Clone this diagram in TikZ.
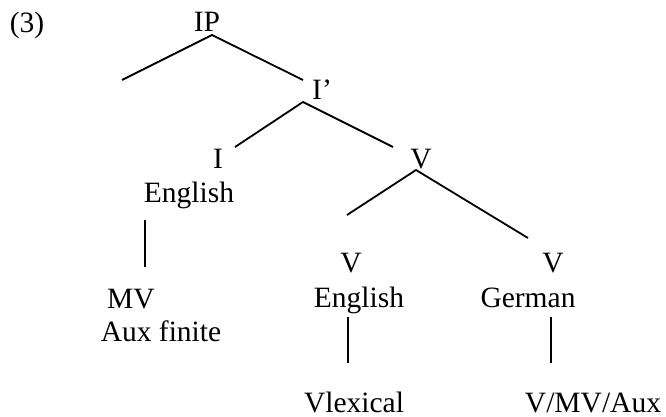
\documentclass[tikz,border=0pt]{standalone}
\usepackage{fontspec}
\setmainfont{Liberation Serif}
\tikzset{
  lbl/.style={anchor=base, inner sep=0pt, font=\fontsize{29.5}{35}\selectfont},
  branch/.style={line width=1.8pt, line cap=butt}
}
\begin{document}
\begin{tikzpicture}[x=1pt,y=-1pt]
\useasboundingbox (0,0) rectangle (666,417);
% labels
\node[lbl] (ex) at (27,33) {(3)};
\node[lbl] (IP) at (207,32) {IP};
\node[lbl] (Ibar) at (322,100) {I’};
\node[lbl] (I) at (218,168) {I};
\node[lbl] (Ieng) at (189,202) {English};
\node[lbl] (V) at (421,168) {V};
\node[lbl] (Vl) at (351,272) {V};
\node[lbl] (Vr) at (553,272) {V};
\node[lbl] (Veng) at (359,307) {English};
\node[lbl] (Vger) at (528,307) {German};
\node[lbl] (MV) at (131,308) {MV};
\node[lbl] (Aux) at (161,341) {Aux finite};
\node[lbl] (Vlex) at (354,412) {Vlexical};
\node[lbl] (VMV) at (593,412) {V/MV/Aux};
% branch end points
\coordinate (ipb) at (212,35);
\coordinate (ipl) at (122,80);
\coordinate (ipr) at (303,80);
\coordinate (ib) at (303,102);
\coordinate (il) at (235,147);
\coordinate (ir) at (393,147);
\coordinate (vb) at (416,170);
\coordinate (vlt) at (347,215);
\coordinate (vrt) at (528,238);
\coordinate (a1) at (145,220);
\coordinate (a2) at (145,267);
\coordinate (b1) at (348,317);
\coordinate (b2) at (348,363);
\coordinate (c1) at (551,317);
\coordinate (c2) at (551,363);
% branches
\draw[branch] (ipl) -- (ipb) -- (ipr);
\draw[branch] (il) -- (ib) -- (ir);
\draw[branch] (vlt) -- (vb) -- (vrt);
\draw[branch] (a1) -- (a2);
\draw[branch] (b1) -- (b2);
\draw[branch] (c1) -- (c2);
\end{tikzpicture}
\end{document}
